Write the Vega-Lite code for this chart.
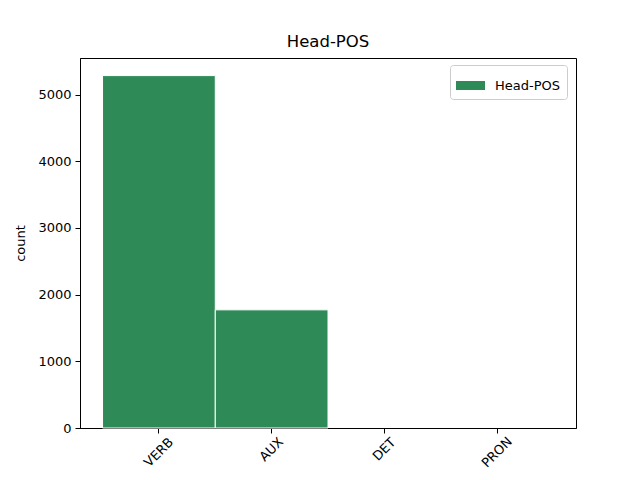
{
  "$schema": "https://vega.github.io/schema/vega-lite/v6.json",
  "width": 496,
  "height": 370,
  "autosize": "none",
  "padding": {"left": 80, "top": 58, "right": 64, "bottom": 52},
  "background": "white",
  "title": {"text": "Head-POS", "font": "DejaVu Sans", "fontSize": 16.5, "fontWeight": "normal", "color": "black", "offset": 8},
  "config": {
    "view": {"stroke": "black", "strokeWidth": 1},
    "axis": {"labelFont": "DejaVu Sans", "titleFont": "DejaVu Sans", "labelFontSize": 13, "titleFontSize": 13, "titleFontWeight": "normal", "labelColor": "black", "titleColor": "black", "domainColor": "black", "tickColor": "black", "tickSize": 5, "grid": false}
  },
  "data": {"values": [
    {"pos": "VERB", "count": 5285, "series": "Head-POS"},
    {"pos": "AUX", "count": 1772, "series": "Head-POS"},
    {"pos": "DET", "count": 0, "series": "Head-POS"},
    {"pos": "PRON", "count": 0, "series": "Head-POS"}
  ]},
  "mark": {"type": "bar", "stroke": "white"},
  "encoding": {
    "x": {"field": "pos", "type": "nominal", "sort": null,
      "scale": {"paddingInner": 0, "paddingOuter": 0.2},
      "axis": {"title": null, "labelAngle": -45, "labelAlign": "center", "labelBaseline": "middle",
        "labelPadding": {"condition": {"test": "datum.label == 'VERB' || datum.label == 'PRON'", "value": 19}, "value": 16}}},
    "y": {"field": "count", "type": "quantitative",
      "scale": {"domain": [0, 5549], "nice": false},
      "axis": {"title": "count", "format": "d", "values": [0, 1000, 2000, 3000, 4000, 5000], "labelPadding": 4, "titlePadding": 10}},
    "strokeWidth": {"condition": {"test": "datum.count == 0", "value": 0}, "value": 1},
    "color": {"field": "series", "type": "nominal", "scale": {"range": ["#2E8B57"]},
      "legend": {"title": null, "orient": "none", "legendX": 370, "legendY": 7, "symbolType": "M-1,-0.31H1V0.31H-1Z", "symbolSize": 841, "symbolStrokeWidth": 0, "labelFont": "DejaVu Sans", "labelFontSize": 13, "labelColor": "black", "labelOffset": 10, "strokeColor": "#cccccc", "fillColor": "white", "padding": 6, "cornerRadius": 3}}
  }
}
